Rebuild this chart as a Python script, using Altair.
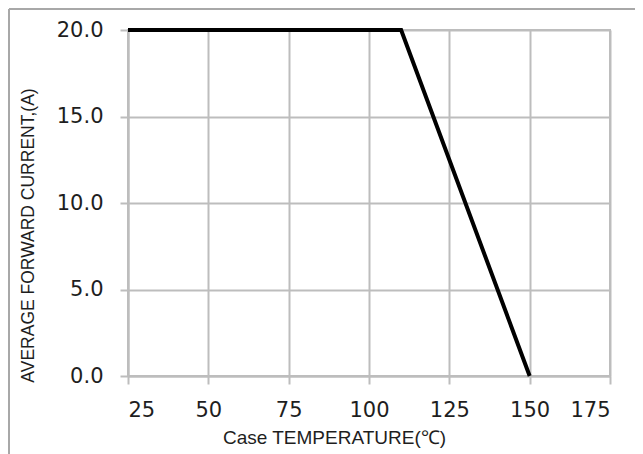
import altair as alt
import pandas as pd

temperature = [25, 110, 150]
current = [20.0, 20.0, 0.0]
x_ticks = [25, 50, 75, 100, 125, 150, 175]
y_ticks = [0, 5, 10, 15, 20]

df = pd.DataFrame({"temp": temperature, "current": current})

W, H = 482, 346
GRID = "#bdbdbd"

line = alt.Chart(df).mark_line(color="black", strokeWidth=4, clip=False).encode(
    x=alt.X("temp:Q",
            scale=alt.Scale(domain=[25, 175], nice=False, zero=False),
            axis=alt.Axis(values=x_ticks, title="Case TEMPERATURE(℃)",
                          titleX=206, titleY=61, titleBaseline="middle",
                          titleAnchor="start", titleAlign="center",
                          titleFontSize=19, labelPadding=15)),
    y=alt.Y("current:Q",
            scale=alt.Scale(domain=[0, 20], nice=False),
            axis=alt.Axis(values=y_ticks, format=".1f",
                          title="AVERAGE FORWARD CURRENT,(A)",
                          titleX=-100, titleY=205, titleBaseline="middle",
                          titleAlign="center", titleAnchor="start",
                          titleFontSize=17.5, labelPadding=17)),
)

frame_df = pd.DataFrame({"k": [0]})
frame_left = alt.Chart(frame_df).mark_rule(color="#a8a8a8", strokeWidth=2).encode(
    x=alt.value(-119), y=alt.value(-21), y2=alt.value(H + 80))
frame_top = alt.Chart(frame_df).mark_rule(color="#a8a8a8", strokeWidth=2).encode(
    x=alt.value(-119), x2=alt.value(W + 40), y=alt.value(-21))

chart = alt.layer(frame_left, frame_top, line).properties(
    width=W, height=H,
    padding={"left": 120, "top": 22, "right": 25, "bottom": 78},
    autosize=alt.AutoSizeParams(type="none"),
).configure_view(
    stroke=GRID, strokeWidth=2
).configure_axis(
    grid=True, gridColor=GRID, gridWidth=2, gridOpacity=1,
    domainColor=GRID, domainWidth=2,
    tickColor=GRID, tickWidth=2, tickSize=8,
    labelFont="DejaVu Sans", labelFontSize=21, labelColor="#1e1e1e",
    titleFont="Liberation Sans", titleFontWeight="normal", titleColor="#1e1e1e",
)

chart.save("out.html", embed_options={"renderer": "svg", "actions": False})
